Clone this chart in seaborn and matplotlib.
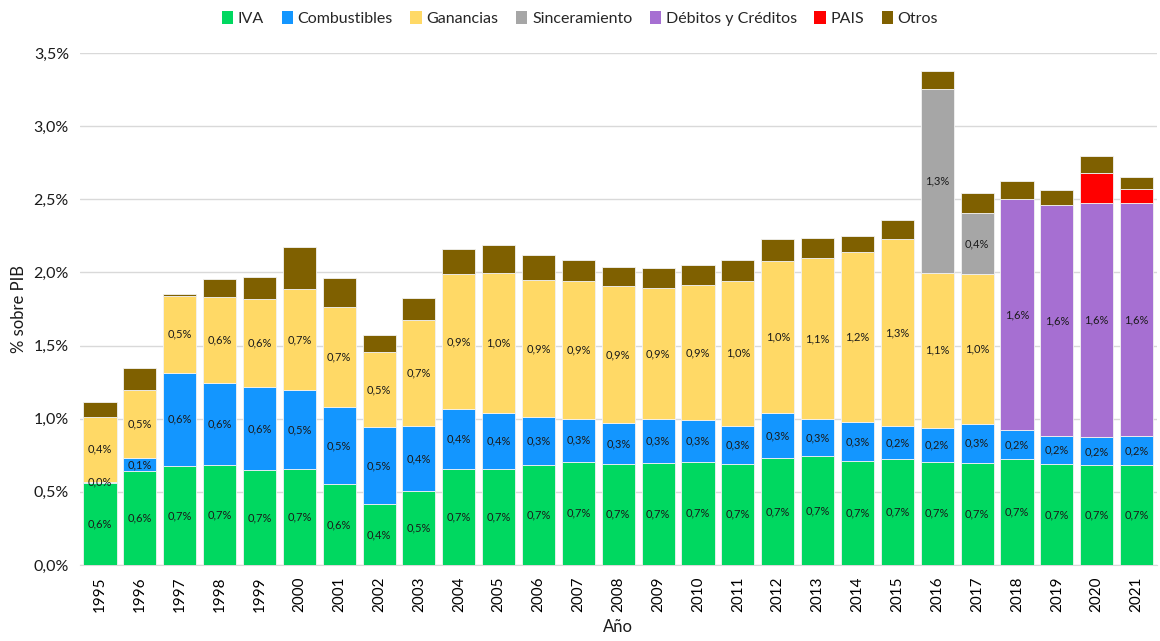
import matplotlib
matplotlib.use("Agg")
import matplotlib.pyplot as plt
from matplotlib.patches import Patch
from matplotlib.ticker import FuncFormatter, MultipleLocator
import seaborn as sns
import pandas as pd

# años y componentes (% del PIB)
years = [str(y) for y in range(1995, 2022)]

iva = [0.563, 0.643, 0.677, 0.681, 0.650, 0.656, 0.552, 0.417, 0.506, 0.656,
       0.656, 0.681, 0.706, 0.692, 0.697, 0.706, 0.692, 0.731, 0.743, 0.711,
       0.725, 0.706, 0.699, 0.725, 0.688, 0.681, 0.681]
combustibles = [0.007, 0.087, 0.638, 0.565, 0.566, 0.540, 0.528, 0.526, 0.444, 0.410,
                0.381, 0.330, 0.292, 0.276, 0.301, 0.285, 0.258, 0.306, 0.255, 0.265,
                0.226, 0.232, 0.265, 0.196, 0.196, 0.191, 0.202]
ganancias = [0.444, 0.467, 0.526, 0.588, 0.601, 0.688, 0.686, 0.511, 0.725, 0.921,
             0.961, 0.939, 0.945, 0.939, 0.895, 0.923, 0.995, 1.040, 1.100, 1.166,
             1.276, 1.060, 1.023, 0.0, 0.0, 0.0, 0.0]
sinceramiento = [0.0] * 21 + [1.255, 0.423] + [0.0] * 4
debitos = [0.0] * 23 + [1.580, 1.576, 1.604, 1.589]
pais = [0.0] * 25 + [0.203, 0.100]
otros = [0.103, 0.150, 0.012, 0.123, 0.152, 0.287, 0.196, 0.116, 0.148, 0.171,
         0.191, 0.171, 0.141, 0.134, 0.139, 0.139, 0.139, 0.153, 0.135, 0.109,
         0.130, 0.123, 0.134, 0.128, 0.103, 0.116, 0.084]

series = [
    ("IVA", iva, "#00D860", True),
    ("Combustibles", combustibles, "#1396FF", True),
    ("Ganancias", ganancias, "#FFD966", True),
    ("Sinceramiento", sinceramiento, "#A6A6A6", True),
    ("Débitos y Créditos", debitos, "#A66FD2", True),
    ("PAIS", pais, "#FF0000", False),
    ("Otros", otros, "#7F6000", False),
]

sns.set_style("white")
plt.rcParams["font.family"] = ["Lato", "DejaVu Sans"]

fig = plt.figure(figsize=(11.6, 6.41), dpi=100)
ax = fig.add_axes([0.069, 0.1186, 0.928, 0.7985])

bottom = [0.0] * len(years)
for name, vals, color, labelled in series:
    df = pd.DataFrame({"anio": years, "valor": vals})
    sns.barplot(data=df, x="anio", y="valor", color=color, bottom=bottom,
                width=0.83, errorbar=None, edgecolor="#F2F2F2", linewidth=0.6,
                saturation=1, ax=ax, zorder=3)
    if labelled:
        for i, v in enumerate(vals):
            if v > 0 or (name == "Combustibles" and years[i] == "1995"):
                txt = f"{v:.1f}".replace(".", ",") + "%"
                ax.text(i, bottom[i] + v / 2, txt, ha="center", va="center",
                        fontsize=8, color="#1a1a1a", zorder=5)
    bottom = [b + v for b, v in zip(bottom, vals)]

ax.set_xlim(-0.5, len(years) - 0.5)
ax.set_ylim(0, 3.5)
ax.yaxis.set_major_locator(MultipleLocator(0.5))
ax.yaxis.set_major_formatter(FuncFormatter(lambda v, p: f"{v:.1f}".replace(".", ",") + "%"))
ax.grid(axis="y", color="#D9D9D9", linewidth=1, zorder=0)
ax.set_axisbelow(True)

for s in ["top", "right", "left"]:
    ax.spines[s].set_visible(False)
ax.spines["bottom"].set_color("#D9D9D9")

ax.tick_params(axis="x", rotation=90, labelsize=11, length=0, pad=8, colors="#000000")
ax.tick_params(axis="y", labelsize=11.5, length=0, pad=8, colors="#1a1a1a")

ax.set_xlabel("Año", fontsize=12, color="#1a1a1a", labelpad=5)
ax.set_ylabel("% sobre PIB", fontsize=12, color="#1a1a1a", labelpad=5)

handles = [Patch(facecolor=c, edgecolor="none", label=n) for n, _, c, _ in series]
fig.legend(handles=handles, loc="upper center", bbox_to_anchor=(0.5, 1.005), ncol=7,
           frameon=False, fontsize=11.5, handlelength=0.7, handleheight=0.9,
           handletextpad=0.3, columnspacing=1.1)

fig.savefig("out.png", dpi=100)
